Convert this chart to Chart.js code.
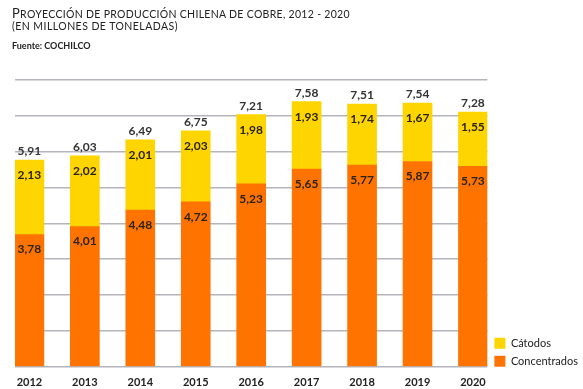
<!DOCTYPE html>
<html>
<head>
<meta charset="utf-8">
<script src="https://cdn.jsdelivr.net/npm/chart.js@4"></script>
<style>
  html, body { margin:0; padding:0; width:583px; height:389px; overflow:hidden; background:#fff; }
  #wrap { position:relative; width:583px; height:389px; }
  #c { position:absolute; left:0; top:0; }
  .t { position:absolute; left:12px; font-family:Lato, "Open Sans", sans-serif; color:#222; white-space:nowrap; }
  #t1, #t2 { font-size:10.5px; letter-spacing:0.45px; }
  #t1 { top:5px; letter-spacing:0.3px; }
  #t2 { top:20px; }
  .big { font-size:13px; }
  #t3 { top:40px; font-size:9px; font-weight:bold; }
</style>
</head>
<body>
<div id="wrap">
  <canvas id="c" width="600" height="389"></canvas>
  <div class="t" id="t1"><span class="big">P</span>ROYECCIÓN DE PRODUCCIÓN CHILENA DE COBRE, 2012 - 2020</div>
  <div class="t" id="t2">(EN MILLONES DE TONELADAS)</div>
  <div class="t" id="t3">Fuente: COCHILCO</div>
</div>
<script>
const years = ["2012","2013","2014","2015","2016","2017","2018","2019","2020"];
const concentrados = [3.78, 4.01, 4.48, 4.72, 5.23, 5.65, 5.77, 5.87, 5.73];
const catodos = [2.13, 2.02, 2.01, 2.03, 1.98, 1.93, 1.74, 1.67, 1.55];
const totales = [5.91, 6.03, 6.49, 6.75, 7.21, 7.58, 7.51, 7.54, 7.28];
const seriesNames = ["Cátodos", "Concentrados"];

const YMAX = 8.2;
const fmt = v => v.toFixed(2).replace('.', ',');

const labelPlugin = {
  id: 'valueLabels',
  afterLayout(chart) {
    // nudge the legend so its last entry sits on the baseline of the plot
    if (chart.legend) { chart.legend.top += 7; chart.legend.bottom += 7; }
  },
  afterDatasetsDraw(chart) {
    const ctx = chart.ctx;
    ctx.save();
    ctx.textAlign = 'center';
    ctx.textBaseline = 'middle';
    ctx.font = 'bold 12px Lato, "Open Sans", sans-serif';
    ctx.fillStyle = '#2a2410';
    chart.data.datasets.forEach((ds, di) => {
      const meta = chart.getDatasetMeta(di);
      meta.data.forEach((bar, i) => {
        ctx.fillText(fmt(ds.values[i]), bar.x, bar.y + 15);
      });
    });
    const top = chart.getDatasetMeta(1).data;
    ctx.fillStyle = '#333';
    top.forEach((bar, i) => {
      ctx.fillText(fmt(totales[i]), bar.x, bar.y - 9);
    });
    ctx.restore();
  }
};

new Chart(document.getElementById('c'), {
  type: 'bar',
  data: {
    datasets: [
      { label: seriesNames[1], values: concentrados, data: concentrados.map((v,i)=>({x:i, y:v})),
        backgroundColor: '#FF7300', barThickness: 29 },
      { label: seriesNames[0], values: catodos, data: catodos.map((v,i)=>({x:i, y:v})),
        backgroundColor: '#FFD500', barThickness: 29 }
    ]
  },
  options: {
    responsive: false,
    animation: false,
    layout: { padding: { left: 15, top: 80, right: 12, bottom: -9 } },
    scales: {
      x: {
        type: 'linear', min: -0.26, max: 8.26, stacked: true, offset: false,
        grid: { display: false, drawTicks: false },
        border: { display: false },
        afterBuildTicks: s => { s.ticks = years.map((_, i) => ({ value: i })); },
        ticks: {
          callback: v => years[v],
          padding: 9, maxRotation: 0, autoSkip: false,
          color: '#222',
          font: { family: 'Lato, "Open Sans", sans-serif', size: 11, weight: 'bold' }
        }
      },
      y: {
        min: 0, max: YMAX, stacked: true,
        afterBuildTicks: s => { const t=[]; for (let k=0;k<=8;k++) t.push({value: k*YMAX/8}); s.ticks = t; },
        ticks: { display: false },
        grid: { color: '#B4B4BC', lineWidth: 1.6, drawTicks: false },
        border: { display: false }
      }
    },
    plugins: {
      legend: {
        position: 'right', align: 'end', reverse: true, fullSize: false,
        labels: {
          boxWidth: 11, boxHeight: 11, padding: 7, color: '#222',
          font: { family: 'Lato, "Open Sans", sans-serif', size: 11 }
        }
      },
      tooltip: { enabled: false }
    }
  },
  plugins: [labelPlugin]
});
</script>
</body>
</html>
